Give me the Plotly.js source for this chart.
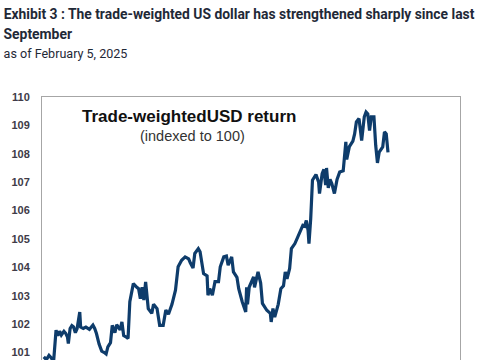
<!DOCTYPE html>
<html>
<head>
<meta charset="utf-8">
<script src="https://cdn.plot.ly/plotly-3.0.1.min.js"></script>
<style>
html, body { margin: 0; padding: 0; background: #fff; overflow: hidden; }
#chart { width: 485px; height: 420px; }
</style>
</head>
<body>
<div id="chart"></div>
<script>
const dates = [
"2024-01-10","2024-01-13","2024-01-16","2024-01-19","2024-01-21","2024-01-24","2024-01-26","2024-01-28","2024-01-30","2024-02-02",
"2024-02-04","2024-02-06","2024-02-07","2024-02-09","2024-02-11","2024-02-13","2024-02-15","2024-02-17","2024-02-20","2024-02-21",
"2024-02-24","2024-02-27","2024-03-02","2024-03-06","2024-03-08","2024-03-10","2024-03-13","2024-03-16","2024-03-19","2024-03-21",
"2024-03-23","2024-03-26","2024-03-28","2024-03-31","2024-04-02","2024-04-06","2024-04-08","2024-04-10","2024-04-13","2024-04-15",
"2024-04-17","2024-04-21","2024-04-25","2024-04-27","2024-04-29","2024-05-01","2024-05-03","2024-05-05","2024-05-08","2024-05-12",
"2024-05-14","2024-05-18","2024-05-21","2024-05-25","2024-05-28","2024-05-31","2024-06-04","2024-06-08","2024-06-11","2024-06-15",
"2024-06-19","2024-06-23","2024-06-25","2024-06-28","2024-06-30","2024-07-04","2024-07-06","2024-07-08","2024-07-10","2024-07-14",
"2024-07-15","2024-07-17","2024-07-20","2024-07-23","2024-07-27","2024-07-29","2024-08-02","2024-08-05","2024-08-07","2024-08-11",
"2024-08-13","2024-08-17","2024-08-19","2024-08-23","2024-08-27","2024-08-28","2024-08-29","2024-08-31","2024-09-05","2024-09-06",
"2024-09-10","2024-09-13","2024-09-15","2024-09-20","2024-09-24","2024-09-25","2024-09-27","2024-09-29","2024-10-03","2024-10-06",
"2024-10-09","2024-10-11","2024-10-13","2024-10-16","2024-10-18","2024-10-22","2024-10-25","2024-10-28","2024-10-31","2024-11-02",
"2024-11-04","2024-11-06","2024-11-07","2024-11-09","2024-11-10","2024-11-11","2024-11-15","2024-11-18","2024-11-19","2024-11-22",
"2024-11-24","2024-11-26","2024-11-27","2024-11-29","2024-12-01","2024-12-03","2024-12-06","2024-12-09","2024-12-12","2024-12-16",
"2024-12-19","2024-12-20","2024-12-23","2024-12-27","2024-12-29","2024-12-31","2025-01-03","2025-01-05","2025-01-06","2025-01-09",
"2025-01-11","2025-01-13","2025-01-15","2025-01-17","2025-01-20","2025-01-22","2025-01-24","2025-01-26","2025-01-29","2025-01-30",
"2025-02-01","2025-02-03","2025-02-05"
];
const usdIndex = [
100.85,100.75,100.9,100.8,100.6,101.79,101.6,101.75,101.62,101.75,
101.68,101.55,101.32,101.85,101.95,101.9,101.7,101.85,102.43,101.9,
101.85,101.9,101.82,101.97,101.85,101.67,101.3,101.05,101.0,100.95,
101.2,101.35,101.96,101.7,101.98,101.8,102.08,101.6,101.55,101.5,
102.79,103.43,103.3,103.25,102.9,103.3,102.85,103.49,102.55,102.38,
102.7,102.55,101.96,101.96,102.5,102.35,102.7,103.2,104.02,104.25,
104.37,104.3,104.15,103.98,104.49,104.66,104.55,104.1,103.78,103.7,
103.02,103.25,103.02,103.5,103.5,104.02,104.37,104.4,104.08,104.37,
103.84,103.65,103.25,102.79,102.43,103.3,102.7,103.31,103.67,103.3,
103.84,103.45,102.73,102.49,102.38,102.08,102.55,102.25,102.7,103.25,
103.35,103.84,103.6,103.96,104.66,104.84,105.07,105.31,105.48,105.45,
105.65,105.3,104.84,105.72,106.3,107.07,107.27,107.0,106.6,107.3,
107.45,106.9,107.5,106.8,107.1,106.95,106.6,107.1,107.36,107.4,
108.42,107.8,108.25,108.45,108.7,109.12,109.24,108.82,108.47,109.3,
109.47,109.4,108.82,109.3,109.3,108.3,107.68,108.06,108.18,108.24,
108.77,108.7,108.05
];
const yTicks = [100,101,102,103,104,105,106,107,108,109,110];
const titleLine1 = "Exhibit 3 : The trade-weighted US dollar has strengthened sharply since last";
const titleLine2 = "September";
const subtitle = "as of February 5, 2025";
const seriesLabel = "Trade-weightedUSD return";
const seriesNote = "(indexed to 100)";

const titleFont = "Roboto, 'Noto Sans', sans-serif";
const arial = "'Liberation Sans', Arial, sans-serif";

const trace = {
  x: dates, y: usdIndex, type: 'scatter', mode: 'lines',
  line: {color: '#0e3c6b', width: 3.2}, hoverinfo: 'skip'
};

const layout = {
  width: 485, height: 420,
  margin: {l: 42, r: 25, t: 97, b: 39},
  paper_bgcolor: '#fff', plot_bgcolor: '#fff',
  showlegend: false,
  xaxis: {type: 'date', range: ['2024-01-08', '2025-04-28'], showgrid: false, zeroline: false,
    showline: true, mirror: true, linecolor: '#a6a6a6', linewidth: 1, showticklabels: false, ticks: ''},
  yaxis: {range: [100, 110], tickvals: yTicks, ticktext: yTicks.map(String), showgrid: false, zeroline: false,
    showline: true, mirror: true, linecolor: '#a6a6a6', linewidth: 1, ticks: '', ticklabelstandoff: 9,
    tickfont: {family: arial, size: 11, color: '#403b48', weight: 'bold'}},
  annotations: [
    {text: titleLine1, xref: 'paper', yref: 'paper', x: -0.093, y: 1.294, xanchor: 'left', yanchor: 'middle', showarrow: false,
     font: {family: titleFont, size: 15, color: '#1f2937', weight: 'bold'}},
    {text: titleLine2, xref: 'paper', yref: 'paper', x: -0.093, y: 1.222, xanchor: 'left', yanchor: 'middle', showarrow: false,
     font: {family: titleFont, size: 15, color: '#1f2937', weight: 'bold'}},
    {text: subtitle, xref: 'paper', yref: 'paper', x: -0.093, y: 1.154, xanchor: 'left', yanchor: 'middle', showarrow: false,
     font: {family: titleFont, size: 13, color: '#1f2937'}},
    {text: seriesLabel, xref: 'paper', yref: 'paper', x: 0.0909, y: 0.93, xanchor: 'left', yanchor: 'middle', showarrow: false,
     font: {family: arial, size: 17, color: '#111', weight: 'bold'}},
    {text: seriesNote, xref: 'paper', yref: 'paper', x: 0.2297, y: 0.864, xanchor: 'left', yanchor: 'middle', showarrow: false,
     font: {family: arial, size: 14.5, color: '#333'}}
  ]
};

// widths (px) of the condensed title texts in the reference, with their left edge
const condensedWidths = {};
condensedWidths[titleLine1] = 471;
condensedWidths[titleLine2] = 69;
condensedWidths[subtitle] = 124;
const condensedLeft = 3.5;

Plotly.newPlot('chart', [trace], layout, {staticPlot: true, displayModeBar: false}).then(function () {
  const gd = document.getElementById('chart');
  const svgRect = gd.querySelector('svg.main-svg').getBoundingClientRect();
  gd.querySelectorAll('g.annotation').forEach(function (g) {
    const t = g.querySelector('.annotation-text');
    if (!t) return;
    const w = condensedWidths[t.textContent];
    if (!w) return;
    const r = t.getBoundingClientRect();
    const left = r.left - svgRect.left;
    const s = w / r.width;
    const dx = condensedLeft - left * s;
    const prev = g.getAttribute('transform') || '';
    g.setAttribute('transform', 'translate(' + dx + ',0) scale(' + s + ',1) ' + prev);
  });
});
</script>
</body>
</html>
